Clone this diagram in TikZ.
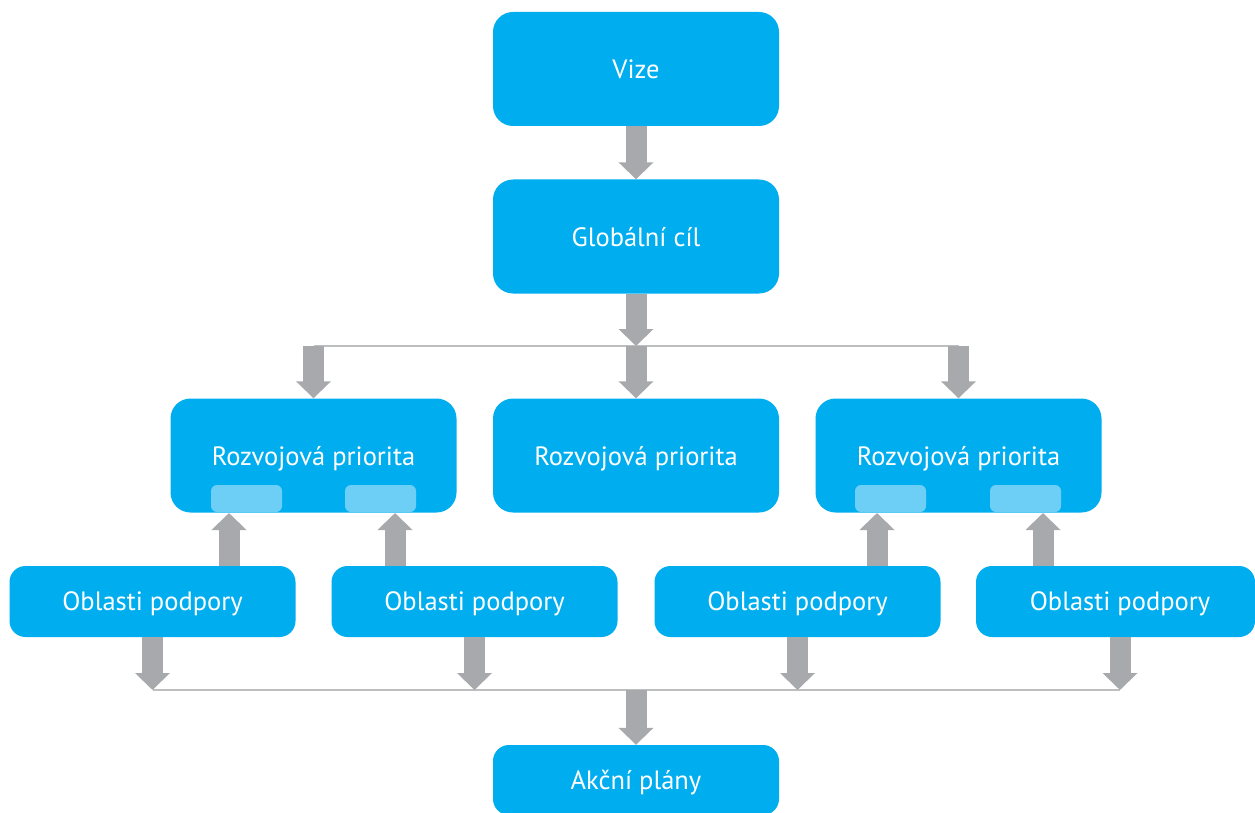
\documentclass[tikz,border=0pt]{standalone}
\usepackage{fontspec}
\setmainfont{PT Sans}
\usetikzlibrary{arrows.meta}
\definecolor{boxblue}{HTML}{00AEEF}
\definecolor{subblue}{HTML}{6DCFF6}
\definecolor{arrgray}{HTML}{A7A9AC}
\definecolor{lingray}{HTML}{BCBEC0}
\tikzset{
  bigbox/.style={rectangle, rounded corners=20pt, fill=boxblue, text=white,
    minimum width=286pt, minimum height=114pt, inner sep=0pt, text depth=0pt,
    font=\fontsize{26.5}{31}\selectfont},
  smallbox/.style={bigbox, minimum height=71pt, rounded corners=16pt},
  subbox/.style={rectangle, rounded corners=6pt, fill=subblue,
    minimum width=71pt, minimum height=27pt, inner sep=0pt},
  fat/.style={draw=arrgray, line width=21pt,
    -{Triangle[width=34pt,length=17pt,fill=arrgray]}},
  thin/.style={draw=lingray, line width=2pt}
}
\begin{document}
\begin{tikzpicture}[x=1pt,y=-1pt]
\useasboundingbox (0,0) rectangle (1255,813);
\clip (0,0) rectangle (1255,813);

\node[bigbox] (vize) at (636,69) {Vize};
\node[bigbox] (cil) at (636,236.5) {Globální cíl};

\node[bigbox] (prior1) at (313.5,455.5) {Rozvojová priorita};
\node[bigbox] (prior2) at (636,455.5) {Rozvojová priorita};
\node[bigbox] (prior3) at (958.5,455.5) {Rozvojová priorita};

\node[subbox] (sub1) at (246.5,498.5) {};
\node[subbox] (sub2) at (380.5,498.5) {};
\node[subbox] (sub3) at (890.5,498.5) {};
\node[subbox] (sub4) at (1025.5,498.5) {};

\node[smallbox] (obl1) at (152.5,601.5) {Oblasti podpory};
\node[smallbox] (obl2) at (474.5,601.5) {Oblasti podpory};
\node[smallbox] (obl3) at (797.5,601.5) {Oblasti podpory};
\node[smallbox, minimum width=279pt] (obl4) at (1115.5,601.5) {\hspace*{9pt}Oblasti podpory};

\node[smallbox, minimum height=70pt] (akce) at (636,780) {Akční plány};

% joints on the gray lines
\coordinate (j1) at (313.5,346);
\coordinate (j2) at (636,346);
\coordinate (j3) at (958.5,346);
\coordinate (k1) at (152.5,690);
\coordinate (k2) at (474.5,690);
\coordinate (k3) at (797.5,690);
\coordinate (k4) at (1120,690);
\coordinate (k0) at (636,690);

% arrow tips under the sub boxes
\coordinate (u1) at (229,513);
\coordinate (u2) at (395,513);
\coordinate (u3) at (877,513);
\coordinate (u4) at (1043,513);

\draw[thin] (j1) -- (j3);
\draw[thin] (k1) -- (k4);

\draw[fat] (vize) -- (cil);
\draw[fat] (cil) -- (j2);
\draw[fat] (j1) -- (prior1);
\draw[fat] (j2) -- (prior2);
\draw[fat] (j3) -- (prior3);

\draw[fat] (obl1.north -| u1) -- (u1);
\draw[fat] (obl2.north -| u2) -- (u2);
\draw[fat] (obl3.north -| u3) -- (u3);
\draw[fat] (obl4.north -| u4) -- (u4);

\draw[fat] (obl1) -- (k1);
\draw[fat] (obl2) -- (k2);
\draw[fat] (obl3) -- (k3);
\draw[fat] (obl4.south -| k4) -- (k4);
\draw[fat] (k0) -- (akce);
\end{tikzpicture}
\end{document}
